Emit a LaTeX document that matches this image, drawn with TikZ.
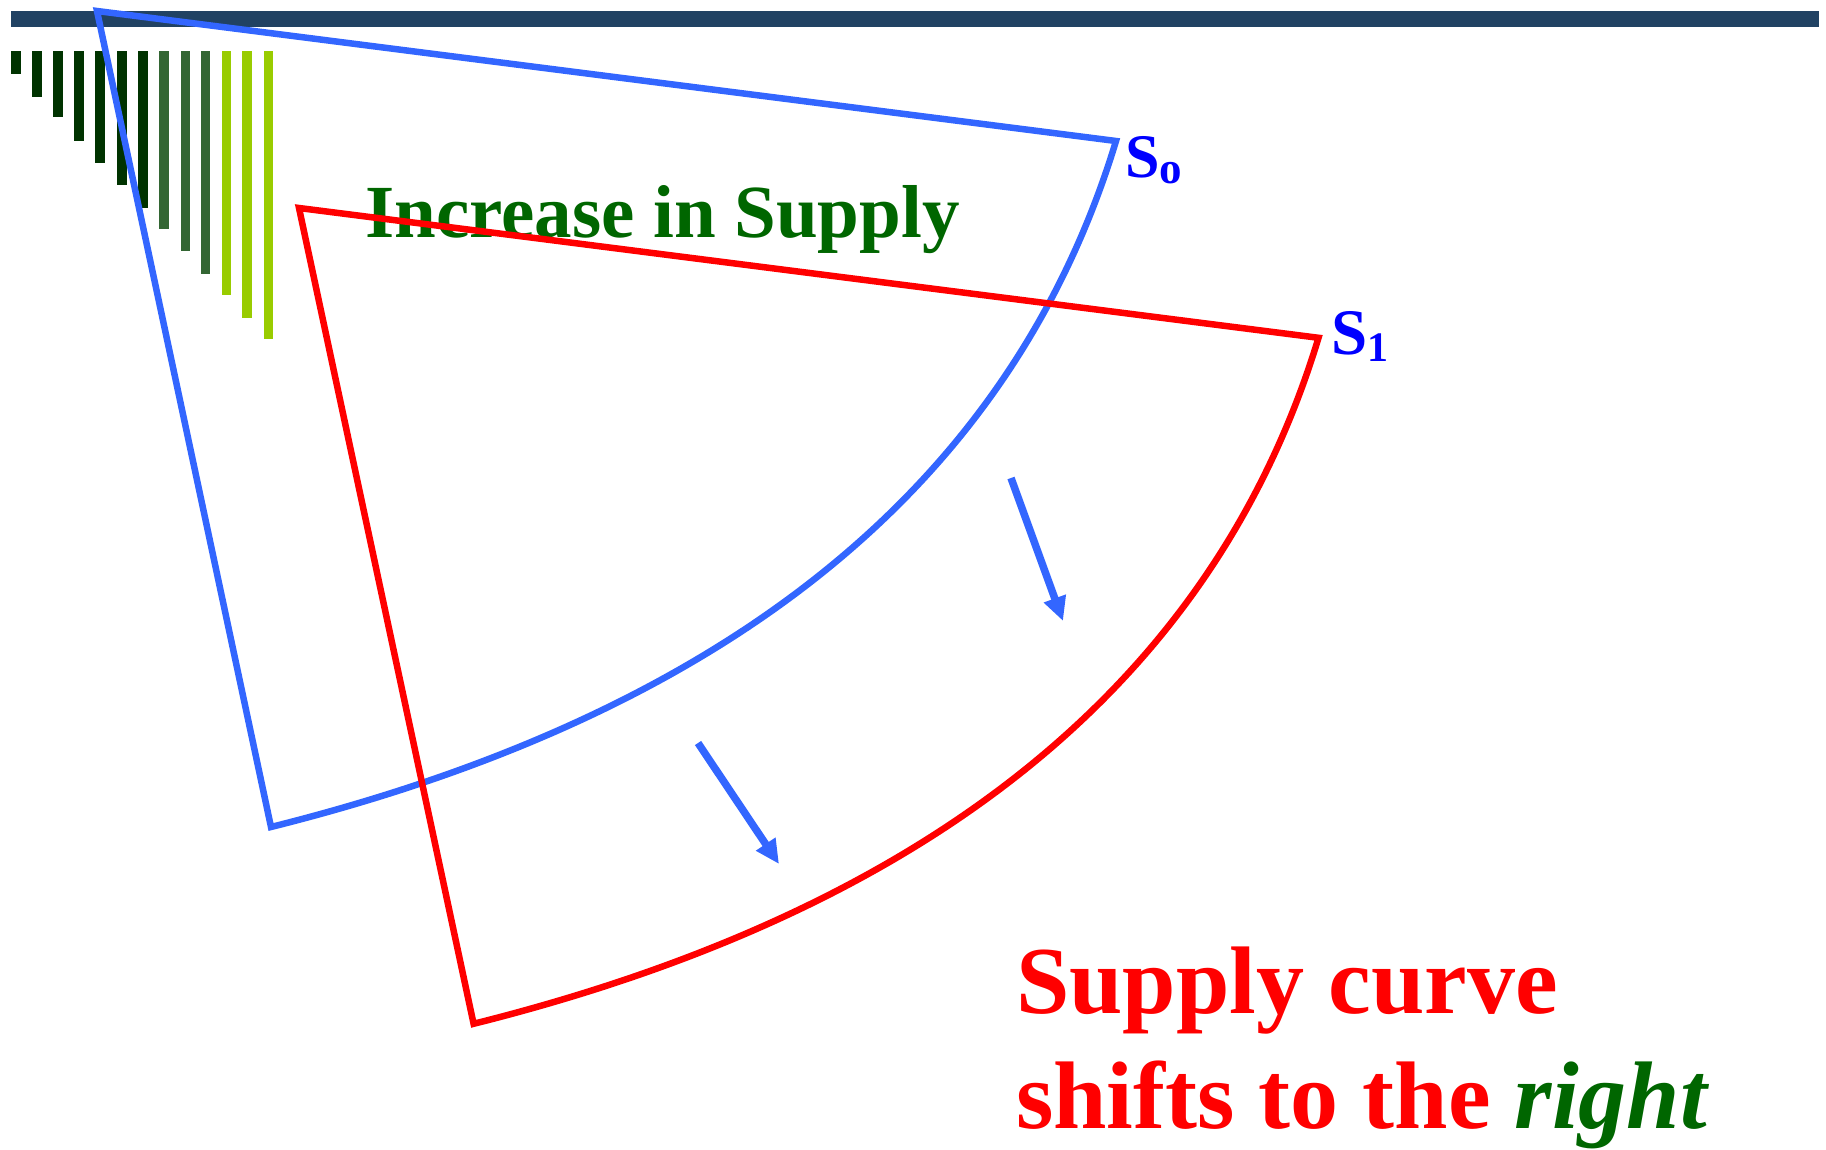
\documentclass[tikz,border=0pt]{standalone}
\usepackage{fontspec}
\usetikzlibrary{arrows.meta}
\newfontfamily\topfont{Liberation Serif}
\newfontfamily\botfont{Liberation Serif}
\newfontfamily\labfont{Liberation Serif}
\definecolor{barnavy}{HTML}{214263}
\definecolor{bdark}{HTML}{003300}
\definecolor{bmid}{HTML}{336633}
\definecolor{blight}{HTML}{99CC00}
\definecolor{sblue}{HTML}{3366FF}
\definecolor{lblue}{HTML}{0000FF}
\definecolor{tgreen}{HTML}{006600}
\definecolor{tred}{HTML}{FF0000}
\tikzset{
  curveline/.style={line width=6.5pt, line join=miter},
  shiftarrow/.style={draw=sblue, line width=7.5pt, -{Triangle[length=24pt,width=22pt]}},
  txt/.style={inner sep=0pt, anchor=base west},
}
\begin{document}
\begin{tikzpicture}[x=1pt,y=-1pt]
\useasboundingbox (0,0) rectangle (1826,1150);
% top bar
\fill[barnavy] (11,11) rectangle (1819,27);
% decorative bars
\foreach \x/\w/\b/\c in {11/10/74/bdark,32/10/97/bdark,53/10/117/bdark,74/10/141/bdark,95/10/163/bdark,117/10/185/bdark,138/10/208/bdark,159/10/229/bmid,181/9/251/bmid,201/9/274/bmid,222/9/295/blight,242/10/318/blight,264/9/339/blight}
  \fill[\c] (\x,51) rectangle ++(\w,\b-51);
% title
\node[txt, text=tgreen] (title) at (365,238) {\topfont\fontsize{75}{80}\selectfont\bfseries Increase in Supply};
% blue supply curve S0
\coordinate (a0) at (97,11);
\coordinate (b0) at (1116,141);
\coordinate (c0) at (271,827);
\coordinate (b0c) at (1012.3,482.8);
\coordinate (c0c) at (730.9,711.9);
\draw[curveline, sblue] (a0) -- (b0) .. controls (b0c) and (c0c) .. (c0) -- cycle;
% red supply curve S1
\coordinate (a1) at (299,208);
\coordinate (b1) at (1318.5,337.8);
\coordinate (c1) at (473.6,1023.8);
\coordinate (b1c) at (1214.9,679.6);
\coordinate (c1c) at (933.5,908.7);
\draw[curveline, tred] (a1) -- (b1) .. controls (b1c) and (c1c) .. (c1) -- cycle;
% labels
\node[txt, text=lblue] (s0) at (1125,178) {\labfont\fontsize{62}{70}\selectfont\bfseries S\raisebox{-6pt}{\fontsize{45}{50}\selectfont o}};
\node[txt, text=lblue] (s1) at (1331,355) {\labfont\fontsize{65}{70}\selectfont\bfseries S\raisebox{-6pt}{\fontsize{42}{50}\selectfont 1}};
% arrows
\coordinate (ar1s) at (1011,478);
\coordinate (ar1e) at (1063,621);
\coordinate (ar2s) at (698,743);
\coordinate (ar2e) at (779,864);
\draw[shiftarrow] (ar1s) -- (ar1e);
\draw[shiftarrow] (ar2s) -- (ar2e);
% bottom text
\node[txt, text=tred] (line1) at (1016,1013) {\botfont\fontsize{96}{100}\selectfont\bfseries Supply curve};
\node[txt, text=tred] (line2) at (1016,1128) {\botfont\fontsize{96}{100}\selectfont\bfseries shifts to the \textcolor{tgreen}{\itshape right}};
\end{tikzpicture}
\end{document}
